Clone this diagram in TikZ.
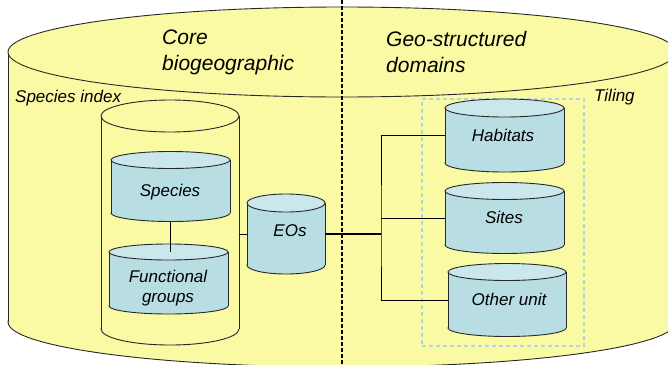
\documentclass[tikz,border=0pt]{standalone}
\usepackage{fontspec}
\setmainfont{Liberation Sans}
\definecolor{bgyellow}{RGB}{250,250,164}
\definecolor{cylblue}{RGB}{184,222,228}
\definecolor{cyltop}{RGB}{202,232,236}
\definecolor{tileblue}{RGB}{180,212,230}
\definecolor{edge}{RGB}{40,40,40}
\tikzset{
  cylline/.style={draw=edge, line width=0.9pt},
  conn/.style={draw=black, line width=1pt},
  lbl/.style={inner sep=0pt, font=\fontsize{17}{20}\selectfont\itshape, align=center},
  head/.style={inner sep=0pt, font=\fontsize{21}{26}\selectfont\itshape, align=left},
}
\newcommand\drawcyl[8]{%
  \filldraw[cylline, fill=#7] (#2,#4) ellipse [x radius=#5, y radius=#6];
  \fill[#7] (#2-#5,#3) rectangle (#2+#5,#4);
  \draw[cylline] (#2-#5,#3) -- (#2-#5,#4) (#2+#5,#3) -- (#2+#5,#4);
  \filldraw[cylline, fill=#8] (#2,#3) ellipse [x radius=#5, y radius=#6];
  \coordinate (#1-top) at (#2,#3);
  \node[inner sep=0pt, minimum width={2*#5}, minimum height={#4-#3+2*#6}] (#1) at (#2,{(#3+#4)/2}) {};
}
\begin{document}
\begin{tikzpicture}[x=1pt,y=-1pt]
\useasboundingbox (0,0) rectangle (668,364);
\clip (0,0) rectangle (668,364);
% big cylinder
\drawcyl{core}{342}{52}{322}{334}{45}{bgyellow}{bgyellow}
% separator
\coordinate (septop) at (342,0);
\coordinate (sepbot) at (342,364);
\draw[black, line width=1.3pt, dash pattern=on 3.5pt off 2.5pt] (septop) -- (sepbot);
\node[head, anchor=west] (corelbl) at (162,52) {Core\\biogeographic};
\node[head, anchor=west] (geolbl) at (386,52) {Geo-structured\\domains};
\node[lbl, anchor=west] (indexlbl) at (15,98) {Species index};
\node[lbl, anchor=west] (tilinglbl) at (594,97) {Tiling};
% species index
\drawcyl{index}{170}{116}{329}{69}{16}{bgyellow}{bgyellow}
\drawcyl{species}{170.5}{160}{213}{59.5}{8.5}{cylblue}{cyltop}
\drawcyl{func}{168.5}{252}{306}{59.5}{8}{cylblue}{cyltop}
\draw[conn] (species.south) -- (species.south |- func-top);
\node[lbl] (specieslbl) at (170,192) {Species};
\node[lbl] (funclbl) at (168,288) {Functional\\groups};
% EOs
\drawcyl{eos}{286}{203}{265}{39}{9}{cylblue}{cyltop}
\node[lbl] (eoslbl) at (290,231) {EOs};
\draw[conn] (eos.west -| index.east) -- (eos.west);
% tiling
\node[draw=tileblue, line width=1.2pt, dash pattern=on 4pt off 3pt, inner sep=0pt,
      minimum width=162pt, minimum height=247pt] (tiling) at (503,222.5) {};
\drawcyl{hab}{504.5}{108}{163}{59.5}{9}{cylblue}{cyltop}
\drawcyl{sites}{504.5}{191}{245}{59.5}{8.5}{cylblue}{cyltop}
\drawcyl{other}{507}{272}{328}{59}{8.5}{cylblue}{cyltop}
\node[lbl] (hablbl) at (503,135) {Habitats};
\node[lbl] (siteslbl) at (504,217) {Sites};
\node[lbl] (otherlbl) at (509,299) {Other unit};
% connectors
\coordinate (branch) at (381,234);
\draw[conn, line width=1.8pt] (eos.east) -- (branch);
\draw[conn] (hab.west) -| (branch) |- (other.west);
\draw[conn] (sites.west -| branch) -- (sites.west);
\end{tikzpicture}
\end{document}
